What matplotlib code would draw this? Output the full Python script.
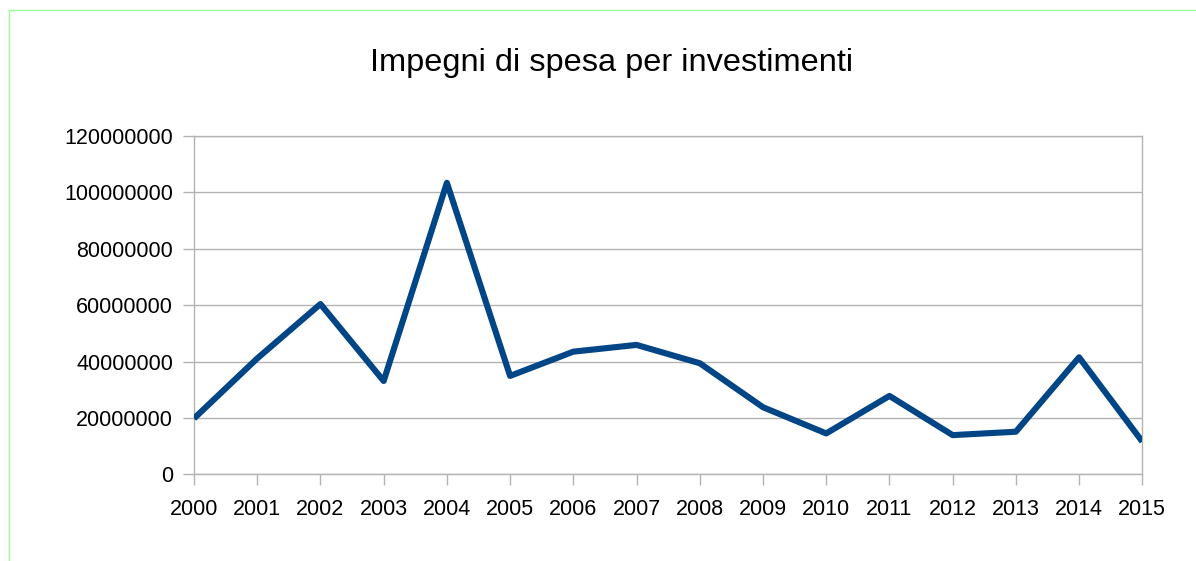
import matplotlib.pyplot as plt
from matplotlib.lines import Line2D

# dati
anni = ['2000', '2001', '2002', '2003', '2004', '2005', '2006', '2007',
        '2008', '2009', '2010', '2011', '2012', '2013', '2014', '2015']
impegni = [19.8e6, 41.1e6, 60.4e6, 33.1e6, 103.4e6, 34.9e6, 43.5e6, 45.9e6,
           39.4e6, 23.8e6, 14.5e6, 27.8e6, 13.9e6, 15.1e6, 41.5e6, 11.6e6]
y_ticks = [0, 20000000, 40000000, 60000000, 80000000, 100000000, 120000000]

plt.rcParams['font.family'] = ['Liberation Sans', 'DejaVu Sans']

W, H = 1196, 561
fig = plt.figure(figsize=(W / 100, H / 100), dpi=100)
ax = fig.add_axes([194 / W, 1 - 474.3 / H, (1142.3 - 194) / W, (474.3 - 136) / H])

x = list(range(len(anni)))
ax.plot(x, impegni, color='#004586', linewidth=4.4, solid_joinstyle='round',
        solid_capstyle='butt', zorder=3)

ax.set_xlim(0, len(anni) - 1)
ax.set_ylim(0, 120000000)
ax.set_xticks(x)
ax.set_xticklabels(anni)
ax.set_yticks(y_ticks)
ax.set_yticklabels([str(v) for v in y_ticks])

grigio = '#b3b3b3'
ax.yaxis.grid(True, color=grigio, linewidth=1)
ax.set_axisbelow(True)
for s in ax.spines.values():
    s.set_color(grigio)
    s.set_linewidth(1)
ax.tick_params(axis='both', direction='out', length=8, width=1, color=grigio,
               labelsize=15.5, labelcolor='black')
ax.tick_params(axis='y', pad=7)
ax.tick_params(axis='x', pad=10)

fig.text(612 / W, 1 - 71 / H, 'Impegni di spesa per investimenti',
         ha='center', va='baseline', fontsize=23.4)

# bordo verde
fig.add_artist(Line2D([8.5 / W, 1], [1 - 9.5 / H, 1 - 9.5 / H],
                      transform=fig.transFigure, color='#99ff99', linewidth=1))
fig.add_artist(Line2D([8.5 / W, 8.5 / W], [0, 1 - 9.5 / H],
                      transform=fig.transFigure, color='#99ff99', linewidth=1))

fig.savefig('out.png', dpi=100)
